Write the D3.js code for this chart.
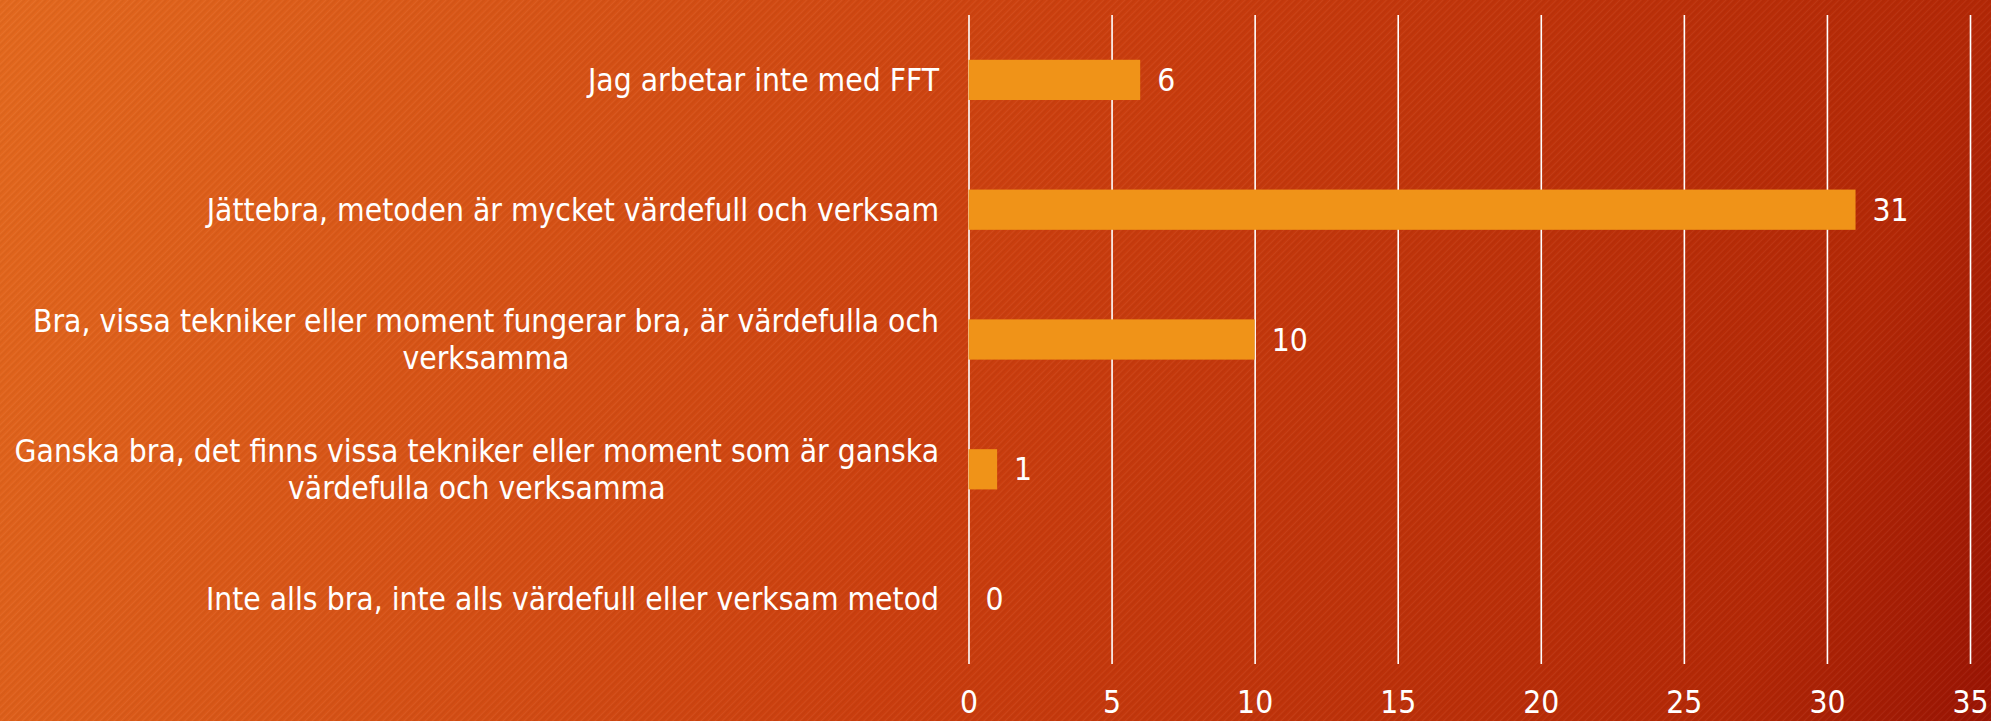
<!DOCTYPE html>
<html>
<head>
<meta charset="utf-8">
<script src="https://cdn.jsdelivr.net/npm/d3@7"></script>
<style>
  body { margin: 0; overflow: hidden; }
  svg text { font-family: "Liberation Sans Narrow", "DejaVu Sans Condensed", "Open Sans", sans-serif; fill: #fff; }
</style>
</head>
<body>
<svg id="chart"></svg>
<script>
// data
const categories = [
  "Jag arbetar inte med FFT",
  "Jättebra, metoden är mycket värdefull och verksam",
  "Bra, vissa tekniker eller moment fungerar bra, är värdefulla och\nverksamma",
  "Ganska bra, det finns vissa tekniker eller moment som är ganska\nvärdefulla och verksamma",
  "Inte alls bra, inte alls värdefull eller verksam metod"
];
const values = [6, 31, 10, 1, 0];
const xTicks = [0, 5, 10, 15, 20, 25, 30, 35];

const svgWidth = 1991, svgHeight = 721;
const plot = { left: 968.5, right: 1970, top: 15, bottom: 664 };
const labelRight = 939;

const svg = d3.select("#chart")
  .attr("width", svgWidth)
  .attr("height", svgHeight);

const defs = svg.append("defs");

// diagonal orange -> dark red background
const grad = defs.append("linearGradient")
  .attr("id", "bg")
  .attr("gradientUnits", "userSpaceOnUse")
  .attr("x1", 0).attr("y1", 0)
  .attr("x2", svgWidth).attr("y2", svgHeight);
grad.append("stop").attr("offset", 0).attr("stop-color", "#e4691e");
grad.append("stop").attr("offset", 0.5).attr("stop-color", "#cb3e0e");
grad.append("stop").attr("offset", 0.88).attr("stop-color", "#b42806");
grad.append("stop").attr("offset", 1).attr("stop-color", "#9a1403");

const pat = defs.append("pattern")
  .attr("id", "stripes")
  .attr("patternUnits", "userSpaceOnUse")
  .attr("width", 5).attr("height", 5)
  .attr("patternTransform", "rotate(-45)");
pat.append("line")
  .attr("x1", 0).attr("y1", 0).attr("x2", 5).attr("y2", 0)
  .attr("stroke", "#fff").attr("stroke-opacity", 0.05).attr("stroke-width", 2);
pat.append("line")
  .attr("x1", 0).attr("y1", 2.5).attr("x2", 5).attr("y2", 2.5)
  .attr("stroke", "#000").attr("stroke-opacity", 0.04).attr("stroke-width", 1.5);

svg.append("rect").attr("width", svgWidth).attr("height", svgHeight).attr("fill", "url(#bg)");
svg.append("rect").attr("width", svgWidth).attr("height", svgHeight).attr("fill", "url(#stripes)");

let x = d3.scaleLinear().domain([0, 35]).range([plot.left, plot.right]);
let y = d3.scaleBand()
  .domain(categories)
  .range([plot.top, plot.bottom])
  .paddingInner(0.69)
  .paddingOuter(0.345);

// gridlines + tick labels
const xAxis = svg.append("g")
  .attr("transform", `translate(0, ${plot.bottom})`)
  .call(d3.axisBottom(x)
    .tickValues(xTicks)
    .tickSize(-(plot.bottom - plot.top))
    .tickPadding(27)
    .tickFormat(d3.format("d")));
xAxis.select(".domain").remove();
xAxis.selectAll(".tick line")
  .attr("stroke", "#fff")
  .attr("stroke-width", 1.6);
xAxis.selectAll(".tick text")
  .attr("fill", "#fff")
  .style("font-size", "31.5px");

// bars
svg.append("g")
  .selectAll("rect")
  .data(values)
  .join("rect")
  .attr("x", x(0))
  .attr("y", (d, i) => y(categories[i]))
  .attr("width", d => x(d) - x(0))
  .attr("height", y.bandwidth())
  .attr("fill", "#f09318");

// value labels
svg.append("g")
  .selectAll("text")
  .data(values)
  .join("text")
  .attr("x", d => x(d) + 17)
  .attr("y", (d, i) => y(categories[i]) + y.bandwidth() / 2)
  .attr("dy", "0.35em")
  .style("font-size", "31.5px")
  .text(d => d);

// category labels, wrapped lines centred on each other
const lineGap = 37;
categories.forEach(c => {
  const lines = c.split("\n");
  const cy = y(c) + y.bandwidth() / 2;
  const g = svg.append("g");
  const texts = lines.map((t, i) =>
    g.append("text")
      .attr("y", cy + (i - (lines.length - 1) / 2) * lineGap)
      .attr("dy", "0.35em")
      .style("font-size", "31.5px")
      .text(t)
  );
  const maxW = d3.max(texts, t => t.node().getComputedTextLength());
  const center = labelRight - maxW / 2;
  texts.forEach(t => t.attr("x", center).attr("text-anchor", "middle"));
});
</script>
</body>
</html>
